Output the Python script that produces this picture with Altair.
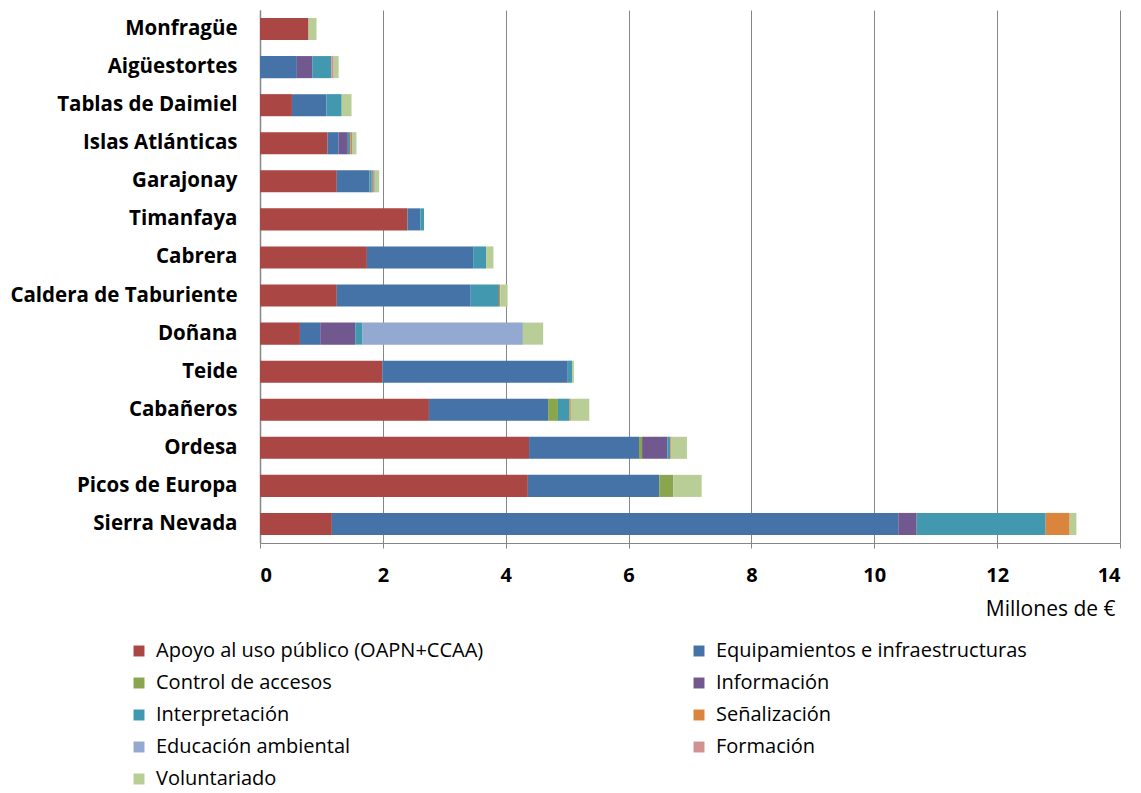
import altair as alt
import pandas as pd

parks = ["Monfragüe", "Aigüestortes", "Tablas de Daimiel", "Islas Atlánticas", "Garajonay",
         "Timanfaya", "Cabrera", "Caldera de Taburiente", "Doñana", "Teide", "Cabañeros",
         "Ordesa", "Picos de Europa", "Sierra Nevada"]

categories = ["Apoyo al uso público (OAPN+CCAA)", "Equipamientos e infraestructuras",
              "Control de accesos", "Información", "Interpretación", "Señalización",
              "Educación ambiental", "Formación", "Voluntariado"]

apoyo          = [0.79, 0.00, 0.52, 1.10, 1.25, 2.40, 1.74, 1.25, 0.65, 1.99, 2.75, 4.38, 4.36, 1.17]
equipamientos  = [0.00, 0.60, 0.56, 0.18, 0.53, 0.21, 1.73, 2.18, 0.33, 3.02, 1.94, 1.79, 2.14, 9.22]
control        = [0.00, 0.00, 0.00, 0.00, 0.00, 0.00, 0.00, 0.00, 0.00, 0.00, 0.16, 0.05, 0.23, 0.00]
informacion    = [0.00, 0.25, 0.00, 0.15, 0.00, 0.00, 0.00, 0.00, 0.57, 0.00, 0.00, 0.41, 0.00, 0.30]
interpretacion = [0.00, 0.31, 0.25, 0.04, 0.04, 0.06, 0.21, 0.46, 0.12, 0.07, 0.19, 0.05, 0.00, 2.10]
senalizacion   = [0.00, 0.00, 0.00, 0.03, 0.02, 0.00, 0.00, 0.02, 0.00, 0.00, 0.02, 0.02, 0.00, 0.39]
educacion      = [0.00, 0.00, 0.00, 0.01, 0.03, 0.00, 0.00, 0.00, 2.61, 0.00, 0.00, 0.00, 0.00, 0.00]
formacion      = [0.00, 0.04, 0.00, 0.00, 0.00, 0.00, 0.00, 0.00, 0.00, 0.00, 0.00, 0.00, 0.00, 0.00]
voluntariado   = [0.13, 0.08, 0.16, 0.06, 0.07, 0.00, 0.12, 0.12, 0.33, 0.03, 0.30, 0.25, 0.46, 0.11]

colors = ["#AA4643", "#4572A7", "#89A54E", "#71588F", "#4198AF", "#DB843D",
          "#93A9CF", "#D19392", "#B9CD96"]

series = [apoyo, equipamientos, control, informacion, interpretacion, senalizacion,
          educacion, formacion, voluntariado]

rows = []
for ci, (cat, vals) in enumerate(zip(categories, series)):
    for p, v in zip(parks, vals):
        rows.append({"parque": p, "categoria": cat, "valor": v, "orden": ci})
df = pd.DataFrame(rows)

# Legend is laid out column-major by Vega; reorder so it reads row-major as in the original
legend_order = categories[0::2] + categories[1::2]
legend_colors = colors[0::2] + colors[1::2]

FONT = "Open Sans"

chart = alt.Chart(df).mark_bar(stroke=None).encode(
    y=alt.Y("parque:N", sort=parks, title=None,
            scale=alt.Scale(paddingInner=0.42, paddingOuter=0.21),
            axis=alt.Axis(labelFontSize=20.5, labelFontWeight="bold", labelColor="#000000",
                          labelFont=FONT, ticks=False, labelPadding=23,
                          domainColor="#868686", domainWidth=1.5,
                          minExtent=252, maxExtent=252, labelLimit=260)),
    x=alt.X("valor:Q", stack="zero",
            scale=alt.Scale(domain=[0, 14], nice=False),
            axis=alt.Axis(values=[0, 2, 4, 6, 8, 10, 12, 14], format="d",
                          labelFontSize=20, labelFontWeight="bold", labelColor="#000000",
                          labelFont=FONT, tickSize=5, tickColor="#868686",
                          domainColor="#868686", gridColor="#868686", gridWidth=1,
                          labelPadding=17, title="Millones de €",
                          titleFont=FONT, titleFontSize=21, titleFontWeight="normal",
                          titleColor="#000000", titleAlign="right", titleAnchor="end",
                          titleX=855, titleY=66, titleBaseline="middle")),
    color=alt.Color("categoria:N",
                    scale=alt.Scale(domain=legend_order, range=legend_colors),
                    legend=alt.Legend(title=None, orient="none", legendX=-131, legendY=631,
                                      columns=2, symbolType="square", symbolSize=120,
                                      symbolStrokeWidth=0, labelFont=FONT, labelFontSize=20,
                                      labelColor="#000000", rowPadding=12, columnPadding=205,
                                      labelOffset=7, padding=0, labelLimit=500)),
    order=alt.Order("orden:Q", sort="ascending"),
).properties(
    width=860, height=533,
    padding={"left": 0, "top": 2, "right": 0, "bottom": 8},
).configure_view(stroke=None).configure_axis(gridOpacity=1)

chart.save("out.html", embed_options={"renderer": "svg", "actions": False})
